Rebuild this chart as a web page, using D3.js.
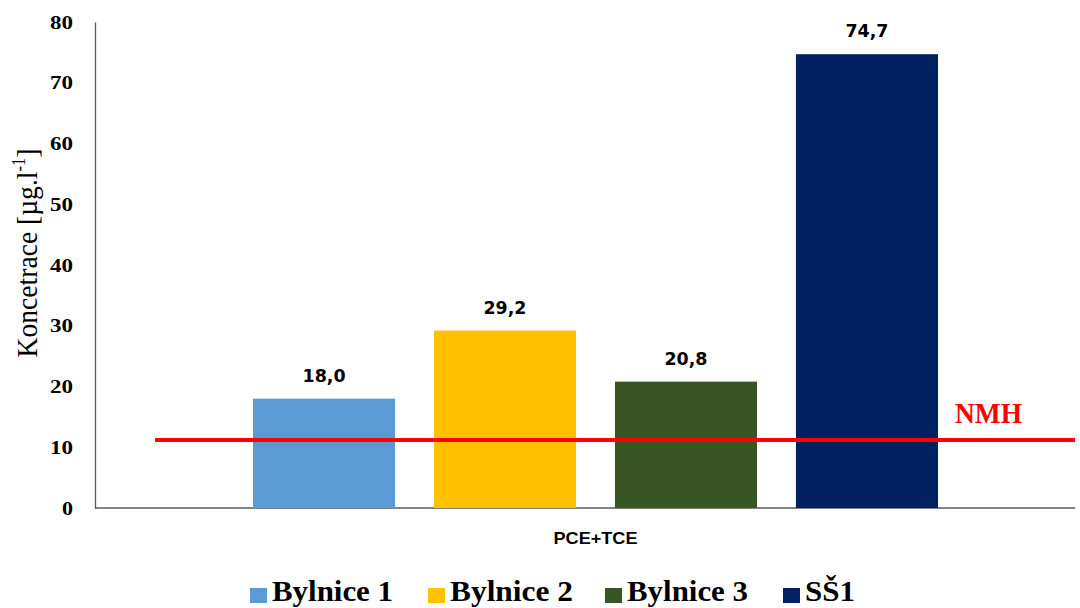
<!DOCTYPE html>
<html><head><meta charset="utf-8">
<script src="https://cdn.jsdelivr.net/npm/d3@7"></script>
<style>body{margin:0;background:#fff}svg{display:block}</style>
</head><body>
<svg id="c" width="1080" height="608"></svg>
<script>
const category = "PCE+TCE";
const seriesNames = ["Bylnice 1", "Bylnice 2", "Bylnice 3", "SŠ1"];
const seriesValues = [18.0, 29.2, 20.8, 74.7];
const seriesColors = ["#5b9bd5", "#ffc000", "#375623", "#002060"];
const yTicks = [0, 10, 20, 30, 40, 50, 60, 70, 80];
const nmhValue = 11.2;
const nmhLabel = "NMH";
const yTitle = "Koncetrace [µg.l";

const svg = d3.select("#c");
const plotL = 95, plotR = 1075, plotT = 22, plotB = 508;
const y = d3.scaleLinear().domain([0, 80]).range([plotB, plotT]);
const x1 = d3.scaleBand().domain(seriesNames).range([253, 938]).paddingInner(0.215).paddingOuter(0);
const groupCenter = (x1.range()[0] + x1.range()[1]) / 2;
const x0 = d3.scaleBand().domain([category]).range([groupCenter - 300, groupCenter + 300]);

// y axis
const yAxis = d3.axisLeft(y).tickValues(yTicks).tickSize(0).tickPadding(22);
const gy = svg.append("g").attr("transform", `translate(${plotL},0)`).call(yAxis);
gy.select(".domain").attr("stroke", "#595959").attr("stroke-width", 1.3);
gy.selectAll("text").attr("font-family", "Liberation Serif").attr("font-weight", "bold")
  .attr("font-size", 19).attr("fill", "#000")
  .attr("textLength", 23).attr("lengthAdjust", "spacingAndGlyphs");
gy.selectAll("text").filter(d => d === 0).attr("textLength", 11);

// x axis line
svg.append("line").attr("x1", plotL).attr("x2", plotR).attr("y1", plotB).attr("y2", plotB)
  .attr("stroke", "#595959").attr("stroke-width", 1.3);
// category label via band axis (no domain line)
const gx = svg.append("g").attr("transform", `translate(0,${plotB})`)
  .call(d3.axisBottom(x0).tickSize(0).tickPadding(24));
gx.select(".domain").remove();
gx.selectAll("text").attr("font-family", "Liberation Sans").attr("font-weight", "bold").attr("font-size", 17)
  .attr("fill", "#000").attr("textLength", 84).attr("lengthAdjust", "spacingAndGlyphs");

// bars
const data = seriesNames.map((n, i) => ({name: n, value: seriesValues[i], color: seriesColors[i]}));
svg.append("g").selectAll("rect").data(data).join("rect")
  .attr("x", d => x1(d.name)).attr("width", x1.bandwidth())
  .attr("y", d => y(d.value)).attr("height", d => y(0) - y(d.value))
  .attr("fill", d => d.color);

// value labels
const fmt = v => v.toFixed(1).replace(".", ",");
svg.append("g").selectAll("text").data(data).join("text")
  .attr("x", d => x1(d.name) + x1.bandwidth() / 2)
  .attr("y", d => y(d.value) - 17)
  .attr("text-anchor", "middle")
  .attr("font-family", "DejaVu Sans").attr("font-weight", "bold").attr("font-size", 17)
  .attr("textLength", 43).attr("lengthAdjust", "spacingAndGlyphs")
  .text(d => fmt(d.value));

// NMH line
svg.append("line").attr("x1", 155).attr("x2", plotR)
  .attr("y1", y(nmhValue)).attr("y2", y(nmhValue))
  .attr("stroke", "#ff0000").attr("stroke-width", 4);
svg.append("text").attr("x", 955).attr("y", y(nmhValue) - 17)
  .attr("font-family", "Liberation Serif").attr("font-weight", "bold").attr("font-size", 29)
  .attr("fill", "#ff0000").attr("textLength", 67).attr("lengthAdjust", "spacingAndGlyphs")
  .text(nmhLabel);

// y title
const yt = svg.append("text").attr("transform", "translate(37,253) rotate(-90) scale(0.92,1)")
  .attr("text-anchor", "middle")
  .attr("font-family", "Liberation Serif").attr("font-size", 30).attr("fill", "#000");
yt.append("tspan").text(yTitle);
yt.append("tspan").attr("font-size", 18).attr("dy", -12).text("-1");
yt.append("tspan").attr("dy", 12).text("]");

// legend
const legX = [250, 428, 605, 783];
const legW = [121, 123, 121, 50];
const lg = svg.append("g").selectAll("g").data(data).join("g")
  .attr("transform", (d, i) => `translate(${legX[i]},0)`);
lg.append("rect").attr("x", 0).attr("y", 588).attr("width", 17).attr("height", 15).attr("fill", d => d.color);
lg.append("text").attr("x", 22).attr("y", 601)
  .attr("font-family", "Liberation Serif").attr("font-weight", "bold").attr("font-size", 29)
  .attr("textLength", (d, i) => legW[i]).attr("lengthAdjust", "spacingAndGlyphs")
  .text(d => d.name);
</script>
</body></html>
